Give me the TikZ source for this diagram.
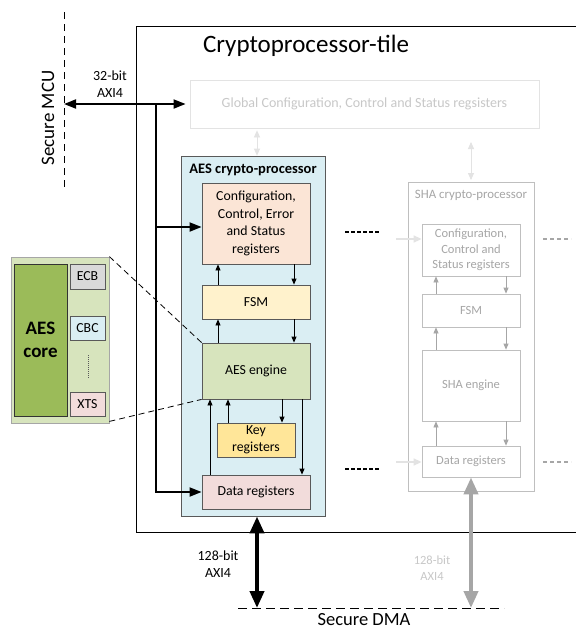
\documentclass[tikz,border=0pt]{standalone}
\usepackage{fontspec}
\setmainfont{Carlito}
\usetikzlibrary{arrows.meta}
\definecolor{aesbg}{HTML}{DAEEF3}
\definecolor{cfgc}{HTML}{FBE5D6}
\definecolor{fsmc}{HTML}{FFF2CC}
\definecolor{engc}{HTML}{D7E4BD}
\definecolor{keyc}{HTML}{FFE699}
\definecolor{datac}{HTML}{F2DCDB}
\definecolor{corec}{HTML}{9BBB59}
\definecolor{ecbc}{HTML}{D9D9D9}
\definecolor{bordc}{HTML}{595959}
\definecolor{shab}{HTML}{BFBFBF}
\definecolor{shat}{HTML}{A6A6A6}
\definecolor{globb}{HTML}{E3E3E3}
\definecolor{globt}{HTML}{C8C8C8}
\begin{document}
\begin{tikzpicture}[x=1pt,y=-1pt,
  blk/.style={draw=bordc,line width=0.8pt,inner sep=0pt,align=center,font=\fontsize{13.8}{17.4}\selectfont},
  shablk/.style={draw=shab,line width=0.8pt,inner sep=0pt,align=center,text=shat,font=\fontsize{12.5}{15.5}\selectfont},
  arr/.style={line width=0.8pt,-{Triangle[length=6pt,width=5pt]}},
  shaarr/.style={line width=0.8pt,draw=shat,-{Triangle[length=6pt,width=5pt]}},
  bus/.style={line width=1.8pt,-{Triangle[length=12pt,width=9pt]}},
  fat/.style={line width=4pt,{Triangle[length=17pt,width=14pt]}-{Triangle[length=17pt,width=14pt]}},
  lbl/.style={align=center,inner sep=0pt,font=\fontsize{14}{17}\selectfont},
]
\useasboundingbox (0,0) rectangle (576,630);
\fill[white] (0,0) rectangle (576,630);

% tile
\draw[line width=0.8pt] (580,26) -- (136,26) -- (136,532) -- (580,532);
\node[inner sep=0pt,font=\fontsize{25}{30}\selectfont] (title) at (306,46) {Cryptoprocessor-tile};

% global config
\node[draw=globb,line width=0.8pt,minimum width=349pt,minimum height=48pt,inner sep=0pt,text=globt,font=\fontsize{14}{17}\selectfont] (glob) at (364.5,104) {Global Configuration, Control and Status regsisters};

% AES crypto-processor
\node[draw=bordc,fill=aesbg,line width=0.8pt,minimum width=144pt,minimum height=360pt,inner sep=0pt] (aes) at (253,336) {};
\node[inner sep=0pt,font=\bfseries\fontsize{14.5}{17}\selectfont] (aest) at (253,170) {AES crypto-processor};
\node[blk,fill=cfgc,minimum width=108pt,minimum height=81pt] (cfg) at (256,223.5) {Configuration,\\Control, Error\\and Status\\registers};
\node[blk,fill=fsmc,minimum width=108pt,minimum height=34pt] (fsm) at (256,302) {FSM};
\node[blk,fill=engc,minimum width=108pt,minimum height=56pt] (eng) at (256,371) {AES engine};
\node[blk,fill=keyc,minimum width=78pt,minimum height=34pt] (key) at (256,440) {Key\\registers};
\node[blk,fill=datac,minimum width=108pt,minimum height=34pt] (data) at (256,492) {Data registers};

\draw[arr] ([xshift=-38pt]fsm.north) -- ([xshift=-38pt]cfg.south);
\draw[arr] ([xshift=38pt]cfg.south) -- ([xshift=38pt]fsm.north);
\draw[arr] ([xshift=-38pt]eng.north) -- ([xshift=-38pt]fsm.south);
\draw[arr] ([xshift=38pt]fsm.south) -- ([xshift=38pt]eng.north);
\draw[arr] ([xshift=-46pt]data.north) -- ([xshift=-46pt]eng.south);
\draw[arr] ([xshift=-28pt]key.north) -- ([xshift=-28pt]eng.south);
\draw[arr] ([xshift=26pt]eng.south) -- ([xshift=26pt]key.north);
\draw[arr] ([xshift=46pt]eng.south) -- ([xshift=46pt]data.north);

% AES core detail
\node[draw=shat,fill=engc,line width=0.8pt,minimum width=98pt,minimum height=166pt,inner sep=0pt] (core) at (60,340) {};
\node[draw=black!80,fill=corec,line width=0.8pt,minimum width=53pt,minimum height=152pt,inner sep=0pt,align=center,font=\bfseries\fontsize{19}{23}\selectfont] (corein) at (40.5,340) {AES\\core};
\node[blk,fill=ecbc,minimum width=35pt,minimum height=25pt] (ecb) at (87.5,276.5) {ECB};
\node[blk,fill=aesbg,minimum width=35pt,minimum height=24pt] (cbc) at (87.5,328) {CBC};
\node[blk,fill=datac,minimum width=35pt,minimum height=24pt] (xts) at (87.5,404) {XTS};
\coordinate (dt) at (88,355);
\coordinate (db) at (88,379);
\draw[line width=0.8pt,dash pattern=on 1pt off 1pt,draw=bordc] (dt) -- (db);
\draw[line width=0.8pt,dash pattern=on 6pt off 4pt] (core.north east) -- (eng.north west);
\draw[line width=0.8pt,dash pattern=on 6pt off 4pt] ([yshift=2pt]core.south east) -- (eng.south west);

% SHA crypto-processor
\node[draw=shab,line width=0.8pt,minimum width=126pt,minimum height=309pt,inner sep=0pt] (sha) at (471,336.5) {};
\node[inner sep=0pt,text=shat,font=\fontsize{12.8}{15.5}\selectfont] (shat) at (471,195) {SHA crypto-processor};
\node[shablk,minimum width=98pt,minimum height=52pt] (scfg) at (471,250) {Configuration,\\Control and\\Status registers};
\node[shablk,minimum width=98pt,minimum height=33pt] (sfsm) at (471,310.5) {FSM};
\node[shablk,minimum width=98pt,minimum height=71pt] (seng) at (471,385.5) {SHA engine};
\node[shablk,minimum width=98pt,minimum height=31pt] (sdata) at (471,461.5) {Data registers};
\draw[shaarr] ([xshift=-35pt]sfsm.north) -- ([xshift=-35pt]scfg.south);
\draw[shaarr] ([xshift=35pt]scfg.south) -- ([xshift=35pt]sfsm.north);
\draw[shaarr] ([xshift=-35pt]seng.north) -- ([xshift=-35pt]sfsm.south);
\draw[shaarr] ([xshift=35pt]sfsm.south) -- ([xshift=35pt]seng.north);
\draw[shaarr] ([xshift=-35pt]sdata.north) -- ([xshift=-35pt]seng.south);
\draw[shaarr] ([xshift=35pt]seng.south) -- ([xshift=35pt]sdata.north);

% light arrows into SHA
\coordinate (sa1) at (396,239);
\coordinate (sa2) at (396,462);
\draw[line width=1.5pt,draw=globb,-{Triangle[length=8pt,width=7pt]}] (sa1) -- (sa1 -| scfg.west);
\draw[line width=1.5pt,draw=globb,-{Triangle[length=8pt,width=7pt]}] (sa2) -- (sa2 -| sdata.west);

% ellipsis dashes
\coordinate (e1a) at (345,232); \coordinate (e1b) at (380,232);
\coordinate (e2a) at (345,469); \coordinate (e2b) at (380,469);
\coordinate (e3a) at (543,239); \coordinate (e3b) at (571,239);
\coordinate (e4a) at (543,462); \coordinate (e4b) at (571,462);
\draw[line width=1.5pt,dash pattern=on 3.5pt off 2.5pt] (e1a) -- (e1b);
\draw[line width=1.5pt,dash pattern=on 3.5pt off 2.5pt] (e2a) -- (e2b);
\draw[line width=1.2pt,draw=shat,dash pattern=on 4pt off 3pt] (e3a) -- (e3b);
\draw[line width=1.2pt,draw=shat,dash pattern=on 4pt off 3pt] (e4a) -- (e4b);

% global <-> processors
\coordinate (g2t) at (471,142);
\coordinate (g2b) at (471,180);
\draw[line width=0.8pt,draw=globb,{Triangle[length=7pt,width=6pt]}-{Triangle[length=7pt,width=6pt]}] ([xshift=-107.5pt,yshift=-2pt]glob.south) -- ([xshift=4pt]aes.north);
\draw[line width=0.8pt,draw=globb,{Triangle[length=7pt,width=6pt]}-{Triangle[length=7pt,width=6pt]}] (g2t) -- (g2b);

% Secure MCU
\coordinate (mcut) at (64,12);
\coordinate (mcub) at (64,188);
\draw[line width=0.8pt,dash pattern=on 7pt off 5pt] (mcut) -- (mcub);
\node[rotate=90,inner sep=0pt,font=\fontsize{19}{23}\selectfont] (mcu) at (48,118) {Secure MCU};
\coordinate (mcuj) at (64,104);
\coordinate (jn) at (156,104);
\draw[line width=1.8pt,{Triangle[length=12pt,width=9pt]}-{Triangle[length=12pt,width=9pt]}] (mcuj) -- ([xshift=-4pt]glob.west);
\node[lbl] (axi32) at (110,84) {32-bit\\AXI4};
\draw[bus] (jn) |- ([yshift=-3.5pt]cfg.west);
\draw[bus] (jn) |- (data.west);

% Secure DMA
\coordinate (dmal) at (238,608);
\coordinate (dmar) at (504,608);
\draw[line width=0.8pt,dash pattern=on 9pt off 5pt] (dmal) -- (dmar);
\node[inner sep=0pt,font=\fontsize{18.5}{22}\selectfont] (dma) at (364,620) {Secure DMA};
\coordinate (dmaA) at (257,608);
\coordinate (dmaS) at (471,608);
\draw[fat] (aes.south -| dmaA) -- (dmaA);
\draw[fat,draw=shat,fill=shat] (sdata.south) -- (dmaS);
\node[lbl] (axi128a) at (218,564) {128-bit\\AXI4};
\node[lbl,text=globt,font=\fontsize{12.5}{15.5}\selectfont] (axi128b) at (432,568) {128-bit\\AXI4};
\end{tikzpicture}
\end{document}
